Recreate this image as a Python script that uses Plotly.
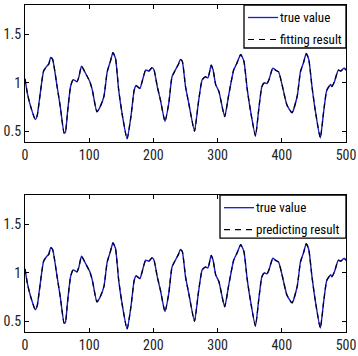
import plotly.graph_objects as go
from plotly.subplots import make_subplots

# sample index (time) and series values
t_idx = [0, 4, 9, 16, 19, 23, 29, 34, 37, 40, 43, 50, 55, 61, 63, 66, 71, 75, 81, 84,
         88, 94, 101, 105, 112, 117, 123, 128, 133, 137, 141, 146, 152, 159, 165, 170,
         173, 179, 182, 188, 193, 198, 201, 206, 211, 218, 224, 229, 235, 239, 242, 245,
         250, 255, 264, 270, 276, 281, 285, 290, 293, 297, 302, 311, 317, 325, 330, 336,
         341, 346, 351, 359, 364, 369, 373, 377, 380, 386, 390, 395, 400, 408, 416, 424,
         429, 434, 438, 442, 447, 452, 460, 465, 470, 476, 478, 482, 488, 492, 497, 500]
true_value = [1.04, 0.88, 0.75, 0.62, 0.66, 0.85, 1.12, 1.17, 1.19, 1.26, 1.24, 0.96, 0.75,
              0.48, 0.49, 0.68, 0.96, 1.03, 1.01, 1.06, 1.17, 1.10, 1.01, 0.92, 0.70, 0.75,
              0.86, 1.11, 1.22, 1.31, 1.25, 0.92, 0.65, 0.42, 0.65, 0.92, 0.97, 0.94, 1.00,
              1.13, 1.12, 1.155, 1.13, 0.96, 0.82, 0.60, 0.79, 1.06, 1.14, 1.19, 1.24, 1.22,
              0.96, 0.79, 0.50, 0.79, 1.03, 1.06, 1.05, 1.18, 1.13, 0.98, 0.91, 0.65, 0.86,
              1.13, 1.20, 1.29, 1.22, 0.94, 0.72, 0.45, 0.72, 0.96, 1.00, 0.99, 1.03, 1.15,
              1.13, 1.11, 0.99, 0.77, 0.69, 0.86, 1.11, 1.21, 1.30, 1.24, 0.96, 0.72, 0.43,
              0.69, 0.92, 0.98, 0.96, 1.01, 1.13, 1.12, 1.15, 1.13]
fitting_result = list(true_value)
predicting_result = list(true_value)

x_ticks = [0, 100, 200, 300, 400, 500]
y_ticks = [0.5, 1, 1.5]
y_tick_labels = ["0.5", "1", "1.5"]

FONT = "Roboto Condensed, Liberation Sans, Arial, sans-serif"
BLUE = "#1a1ad0"
DASH = "5px,4px"
LEGEND_DASH = "6px,5px"

W, H = 358, 356
ML, MR, MT, MB = 25, 12, 5, 24
PW, PH = W - ML - MR, H - MT - MB
TOP_DOM, BOT_DOM = [0.5816, 1.0], [0.0, 0.4184]
SUB_H = PH * (TOP_DOM[1] - TOP_DOM[0])

fig = make_subplots(rows=2, cols=1, vertical_spacing=0.1632)

fig.add_trace(go.Scatter(x=t_idx, y=true_value, mode="lines", name="true value", showlegend=False,
                         line=dict(color=BLUE, width=1.4, shape="spline", smoothing=0.5)), row=1, col=1)
fig.add_trace(go.Scatter(x=t_idx, y=fitting_result, mode="lines", name="fitting result", showlegend=False,
                         line=dict(color="black", width=1.2, dash=DASH, shape="spline", smoothing=0.5)), row=1, col=1)
fig.add_trace(go.Scatter(x=t_idx, y=true_value, mode="lines", name="true value", showlegend=False,
                         line=dict(color=BLUE, width=1.4, shape="spline", smoothing=0.5)), row=2, col=1)
fig.add_trace(go.Scatter(x=t_idx, y=predicting_result, mode="lines", name="predicting result", showlegend=False,
                         line=dict(color="black", width=1.2, dash=DASH, shape="spline", smoothing=0.5)), row=2, col=1)

axis_common = dict(showline=True, linecolor="black", linewidth=1.3, mirror="allticks",
                   ticks="inside", ticklen=4, tickcolor="black", tickwidth=1,
                   showgrid=False, zeroline=False, automargin=False,
                   tickfont=dict(family=FONT, size=14, color="#222"))

for r, dom in ((1, TOP_DOM), (2, BOT_DOM)):
    fig.update_xaxes(range=[0, 500], tickvals=x_ticks, row=r, col=1, **axis_common)
    fig.update_yaxes(range=[0.39, 1.8], tickvals=y_ticks, ticktext=y_tick_labels,
                     domain=dom, row=r, col=1, **axis_common)


def add_legend(axn, names, box_w):
    """Legend box drawn in the subplot's domain coordinates (pixel offsets from the top-right corner)."""
    xr, yr = f"x{axn} domain", f"y{axn} domain"
    fx = lambda px: px / PW
    fy = lambda px: 1 - px / SUB_H
    left = 1 - fx(box_w)
    fig.add_shape(type="rect", xref=xr, yref=yr, x0=left, x1=1, y0=fy(43), y1=1,
                  fillcolor="white", line=dict(color="black", width=1.3), layer="above")
    styles = [dict(color=BLUE, width=1.3), dict(color="black", width=1.2, dash=LEGEND_DASH)]
    for i, (name, st) in enumerate(zip(names, styles)):
        yc = fy(12.5 + 22 * i)
        fig.add_shape(type="line", xref=xr, yref=yr, x0=left + fx(4), x1=left + fx(34),
                      y0=yc, y1=yc, line=st, layer="above")
        fig.add_annotation(xref=xr, yref=yr, x=left + fx(35), y=yc, text=name, showarrow=False,
                           xanchor="left", yanchor="middle", borderpad=0,
                           font=dict(family=FONT, size=13, color="black"))


add_legend("", ["true value", "fitting result"], 102)
add_legend("2", ["true value", "predicting result"], 126)

fig.update_layout(
    width=W, height=H,
    margin=dict(l=ML, r=MR, t=MT, b=MB),
    paper_bgcolor="white", plot_bgcolor="white",
    showlegend=False,
)

fig.write_html("out.html")
